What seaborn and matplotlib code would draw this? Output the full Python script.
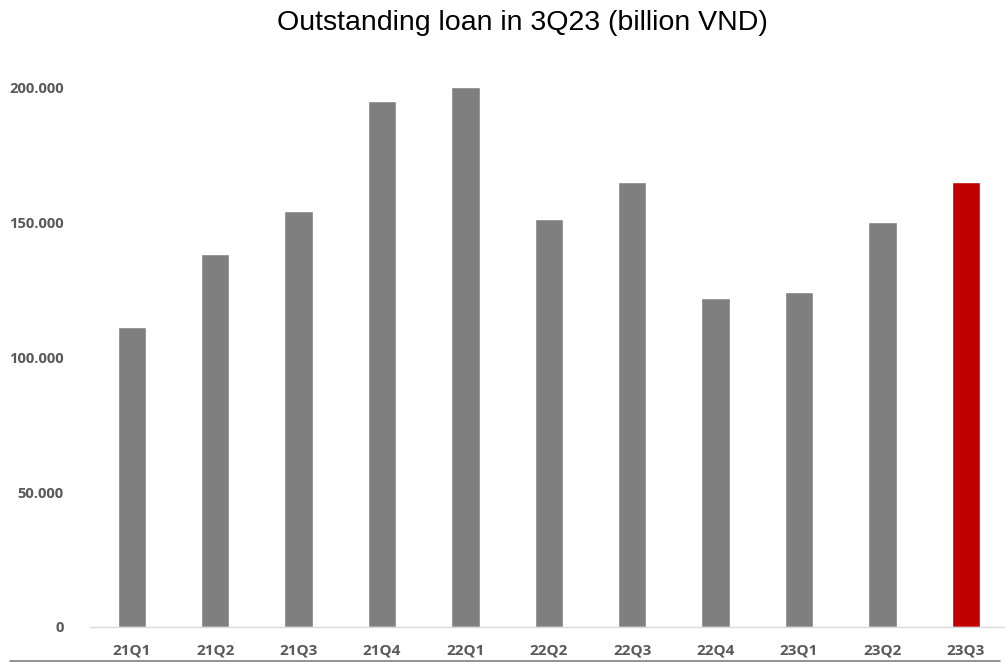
import matplotlib
matplotlib.use("Agg")
import matplotlib.pyplot as plt
from matplotlib.ticker import FuncFormatter
from matplotlib.lines import Line2D
import seaborn as sns
import pandas as pd

quarters = ["21Q1", "21Q2", "21Q3", "21Q4", "22Q1", "22Q2",
            "22Q3", "22Q4", "23Q1", "23Q2", "23Q3"]
loans = [111000, 138000, 154000, 195000, 200000, 151000,
         165000, 122000, 124000, 150000, 165000]
bar_colors = ["#7f7f7f"] * 10 + ["#c00000"]
y_ticks = [0, 50000, 100000, 150000, 200000]

sns.set_theme(style="white")
plt.rcParams["font.family"] = ["Open Sans", "DejaVu Sans"]

df = pd.DataFrame({"quarter": quarters, "loan": loans})

fig = plt.figure(figsize=(10.05, 6.63), dpi=100)
ax = fig.add_axes([90 / 1005, 1 - 627 / 663, 1 - 90 / 1005, (627 - 60) / 663])

sns.barplot(data=df, x="quarter", y="loan", hue="quarter",
            palette=bar_colors, legend=False, width=0.34,
            saturation=1, ax=ax)

ax.set_xlim(-0.5, 10.47)
ax.set_ylim(0, 210000)
ax.set_yticks(y_ticks)
ax.yaxis.set_major_formatter(
    FuncFormatter(lambda v, _: "0" if v == 0 else f"{int(v):,}".replace(",", ".")))
ax.set_xlabel("")
ax.set_ylabel("")

for spine in ["top", "right", "left"]:
    ax.spines[spine].set_visible(False)
ax.spines["bottom"].set_color("#d9d9d9")
ax.spines["bottom"].set_linewidth(1.0)

ax.tick_params(axis="y", length=0, pad=19, labelsize=10.7, labelcolor="#595959")
ax.tick_params(axis="x", length=0, pad=12, labelsize=11, labelcolor="#595959")
for lbl in ax.get_xticklabels() + ax.get_yticklabels():
    lbl.set_fontweight("bold")

fig.text(0.52, 0.966, "Outstanding loan in 3Q23 (billion VND)",
         ha="center", va="center", fontsize=20.5, color="black",
         family=["Liberation Sans", "DejaVu Sans"])

fig.add_artist(Line2D([10 / 1005, 1000 / 1005], [1 - 661 / 663] * 2,
                      color="#7f7f7f", linewidth=1.2,
                      transform=fig.transFigure))

fig.savefig("out.png", dpi=100)
